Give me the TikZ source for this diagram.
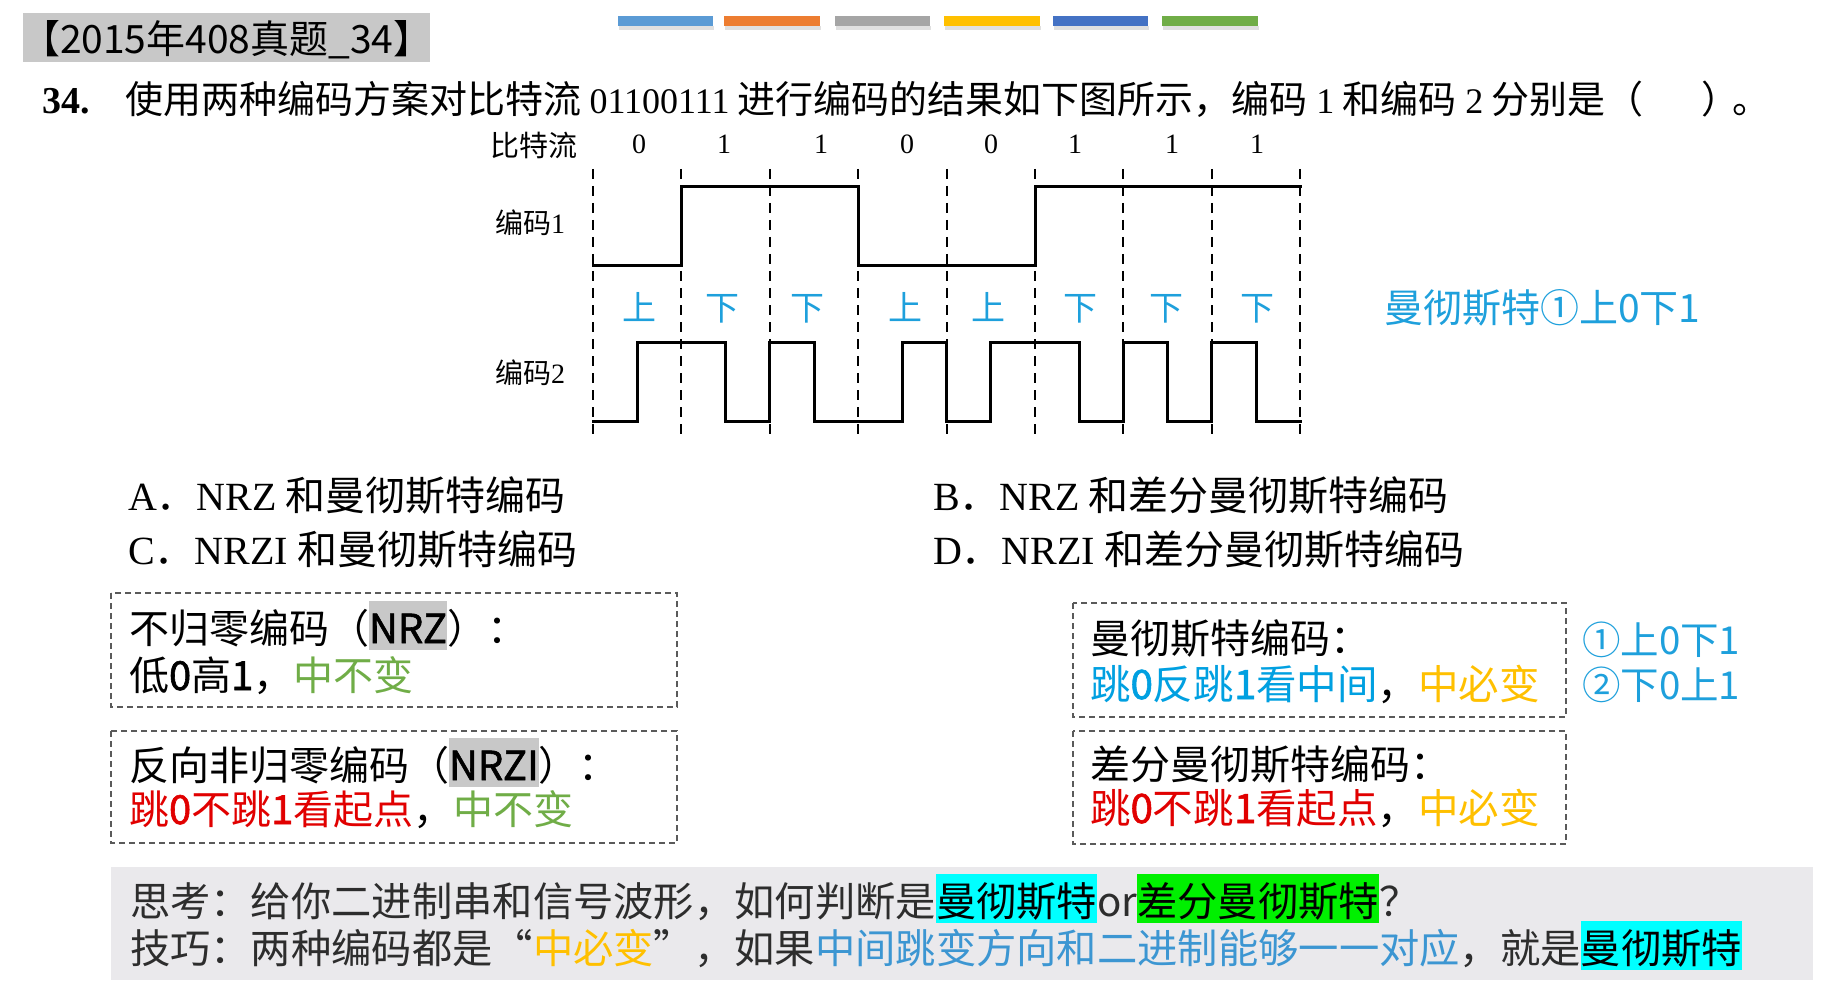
\documentclass[tikz,border=0pt]{standalone}
\usepackage{fontspec}
\setmainfont{Noto Sans CJK SC}
\newfontfamily\tm{Liberation Serif}
\newfontfamily\bcjk{Noto Sans CJK SC}[FakeBold=1.5]
\newcommand\myfs[1]{\fontsize{#1pt}{#1pt}\selectfont}
\newcommand\hlb[2]{{\fboxsep=0pt\colorbox{#1}{\rule[-0.17em]{0pt}{1.22em}#2}}}
\definecolor{cyanlab}{RGB}{30,160,220}
\definecolor{cblue}{RGB}{0,160,225}
\definecolor{cbluetwo}{RGB}{60,150,210}
\definecolor{cgold}{RGB}{255,192,0}
\definecolor{cgreen}{RGB}{112,173,71}
\definecolor{cred}{RGB}{225,0,0}
\definecolor{hlcyan}{RGB}{0,255,255}
\definecolor{hlgreen}{RGB}{0,240,0}
\definecolor{hlgray}{RGB}{200,200,200}
\definecolor{titlegray}{RGB}{200,200,200}
\definecolor{bandgray}{RGB}{234,233,236}
\definecolor{boxline}{RGB}{90,90,90}
\definecolor{bandtext}{RGB}{45,45,45}
\definecolor{barA}{RGB}{91,155,213}
\definecolor{barB}{RGB}{237,125,49}
\definecolor{barC}{RGB}{165,165,165}
\definecolor{barD}{RGB}{255,192,0}
\definecolor{barE}{RGB}{68,114,196}
\definecolor{barF}{RGB}{112,173,71}
\begin{document}
\begin{tikzpicture}[x=1pt,y=-1pt,
  txt/.style={inner sep=0pt, outer sep=0pt, anchor=base west},
  ctxt/.style={inner sep=0pt, outer sep=0pt, anchor=base},
  wave/.style={line width=3pt, line join=miter, line cap=rect},
  gridline/.style={line width=2pt, dash pattern=on 10pt off 7pt},
  dbox/.style={draw=boxline, line width=1.5pt, dash pattern=on 6pt off 4pt},
  updown/.style={ctxt, text=cyanlab, font=\myfs{34}},
  bit/.style={ctxt, font=\myfs{28}\tm},
  bar/.style={inner sep=0pt}]
\useasboundingbox (0,0) rectangle (1828,992);
\fill[white] (0,0) rectangle (1828,992);

% title
\fill[titlegray] (23,13) rectangle (430,62);
\node[txt] (title) at (21,54) {\myfs{39}【2015年408真题\_34】};

% colour bars
\foreach \c/\xa/\xb in {barA/618/713, barB/724/820, barC/835/930, barD/944/1040, barE/1053/1148, barF/1162/1258}{
  \fill[black!12] (\xa+1,26) rectangle (\xb+1,30);
  \fill[\c] (\xa,16) rectangle (\xb,26);
}

% question
\node[txt] (question) at (42,114) {\myfs{38}{\tm\bfseries 34.}\hspace{35.5pt}使用两种编码方案对比特流\hspace{8.5pt}{\myfs{36}\tm 01100111}\hspace{8.5pt}进行编码的结果如下图所示，编码\hspace{8.5pt}{\myfs{36}\tm 1}\hspace{8.5pt}和编码\hspace{8.5pt}{\myfs{36}\tm 2}\hspace{8.5pt}分别是（\hspace{58pt}）\hspace{-8pt}。};

% diagram labels
\node[anchor=east, inner sep=0pt] (bslabel) at (578,145) {\myfs{29}比特流};
\node[anchor=west, inner sep=0pt] (enc1) at (495,223) {\myfs{28}编码{\tm 1}};
\node[anchor=west, inner sep=0pt] (enc2) at (495,373) {\myfs{28}编码{\tm 2}};

\foreach \x/\b [count=\i] in {639/0,724/1,821/1,907/0,991/0,1075/1,1172/1,1257/1}{
  \node[bit] (bit\i) at (\x,154) {\b};
}

% dashed boundaries
\foreach \i in {0,...,8}{
  \draw[gridline] (593+88.4*\i,169) -- (593+88.4*\i,437);
}

% waveform 1
\draw[wave] (593,266) -- (681.4,266) -- (681.4,187) -- (858.2,187) -- (858.2,266) -- (1035,266) -- (1035,187) -- (1300.2,187);

% waveform 2
\draw[wave] (593,421) -- (637.2,421) -- (637.2,342) -- (725.6,342) -- (725.6,421) -- (769.8,421) -- (769.8,342) -- (814,342) -- (814,421) -- (902.4,421) -- (902.4,342) -- (946.6,342) -- (946.6,421) -- (990.8,421) -- (990.8,342) -- (1079.2,342) -- (1079.2,421) -- (1123.4,421) -- (1123.4,342) -- (1167.6,342) -- (1167.6,421) -- (1211.8,421) -- (1211.8,342) -- (1256,342) -- (1256,421) -- (1300.2,421);

% up/down labels
\foreach \x/\t [count=\i] in {639/上,722/下,807/下,905/上,988/上,1080/下,1166/下,1257/下}{
  \node[updown] (ud\i) at (\x,320) {\t};
}
\node[txt, text=cyanlab] (manchnote) at (1384,322) {\myfs{39}曼彻斯特①上0下1};

% options
\node[txt] (optA) at (128,510) {\myfs{40}{\tm A}．{\tm NRZ}\hspace{9pt}和曼彻斯特编码};
\node[txt] (optB) at (933,510) {\myfs{40}{\tm B}．{\tm NRZ}\hspace{9pt}和差分曼彻斯特编码};
\node[txt] (optC) at (128,564) {\myfs{40}{\tm C}．{\tm NRZI}\hspace{9pt}和曼彻斯特编码};
\node[txt] (optD) at (933,564) {\myfs{40}{\tm D}．{\tm NRZI}\hspace{9pt}和差分曼彻斯特编码};

% boxes
\draw[dbox] (111,593) rectangle (677,707);
\draw[dbox] (111,731) rectangle (677,843);
\draw[dbox] (1073,603) rectangle (1566,717);
\draw[dbox] (1073,731) rectangle (1566,844);

\node[txt] (nrzA) at (129,643) {\myfs{40}不归零编码（\hlb{hlgray}{\bcjk NRZ}）：};
\node[txt] (nrzB) at (129,690) {\myfs{40}低{\bcjk 0}高{\bcjk 1}，\textcolor{cgreen}{中不变}};
\node[txt] (nrziA) at (129,780) {\myfs{40}反向非归零编码（\hlb{hlgray}{\bcjk NRZI}）：};
\node[txt] (nrziB) at (129,824) {\myfs{40}\textcolor{cred}{跳{\bcjk 0}不跳{\bcjk 1}看起点}，\textcolor{cgreen}{中不变}};

\node[txt] (manA) at (1090,653) {\myfs{40}曼彻斯特编码：};
\node[txt] (manB) at (1090,699) {\myfs{40.5}\textcolor{cblue}{跳{\bcjk 0}反跳{\bcjk 1}看中间}，\textcolor{cgold}{中必变}};
\node[txt] (dmanA) at (1090,779) {\myfs{40}差分曼彻斯特编码：};
\node[txt] (dmanB) at (1090,823) {\myfs{40.5}\textcolor{cred}{跳{\bcjk 0}不跳{\bcjk 1}看起点}，\textcolor{cgold}{中必变}};

\node[txt, text=cyanlab] (ruleA) at (1582,654) {\myfs{38.5}①上0下1};
\node[txt, text=cyanlab] (ruleB) at (1582,699) {\myfs{38.5}②下0上1};

% bottom band
\fill[bandgray] (111,867) rectangle (1813,980);
\node[txt, text=bandtext] (thinkA) at (130,916) {\myfs{40.3}思考：给你二进制串和信号波形，如何判断是\hlb{hlcyan}{\textcolor{black}{曼彻斯特}}or\hlb{hlgreen}{\textcolor{black}{差分曼彻斯特}}？};
\node[txt, text=bandtext] (thinkB) at (130,963) {\myfs{40.3}技巧：两种编码都是“\textcolor{cgold}{中必变}”，如果\textcolor{cbluetwo}{中间跳变方向和二进制能够一一对应}，就是\hlb{hlcyan}{\textcolor{black}{曼彻斯特}}};
\end{tikzpicture}
\end{document}
